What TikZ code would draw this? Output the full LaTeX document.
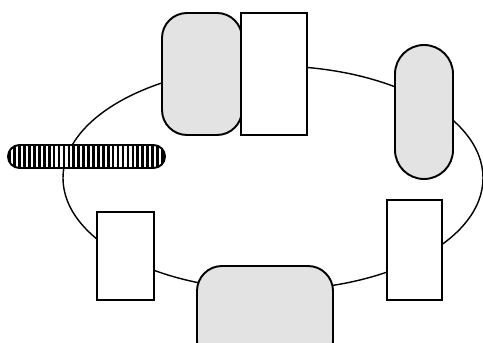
\documentclass[tikz,border=0pt]{standalone}
\usetikzlibrary{shapes.geometric,patterns.meta}
\tikzset{
  pad/.style={draw, line width=1.1pt, fill=gray!22, rounded corners=5mm, inner sep=0pt},
  box/.style={draw, line width=0.7pt, fill=white, inner sep=0pt},
  hatchbar/.style={draw, line width=1.1pt, rounded corners=2.3mm, inner sep=0pt,
    preaction={fill=white}, pattern={Lines[angle=90,distance=2.8pt,line width=1.5pt]}}
}
\begin{document}
\begin{tikzpicture}[x=0.2mm, y=-0.2mm]
	\useasboundingbox (0,0) rectangle (483,343);
	\node[draw, line width=0.8pt, ellipse, minimum width=84mm, minimum height=44.8mm, inner sep=0pt] (ring) at (273,178) {};
	\node[pad, minimum width=16mm, minimum height=24.4mm] (padTL) at (202,74) {};
	\node[box, minimum width=13.2mm, minimum height=24.4mm] (boxT) at (274,74) {};
	\node[pad, rounded corners=5.8mm, minimum width=11.6mm, minimum height=26.8mm] (padR) at (424,112) {};
	\node[pad, minimum width=27.2mm, minimum height=20mm] (padB) at (265,316) {};
	\node[box, minimum width=11.4mm, minimum height=17.6mm] (boxBL) at (125.5,256) {};
	\node[box, minimum width=11mm, minimum height=20mm] (boxBR) at (414.5,250) {};
	\node[hatchbar, minimum width=31.4mm, minimum height=4.6mm] (bar) at (86.5,156.5) {};
\end{tikzpicture}
\end{document}
